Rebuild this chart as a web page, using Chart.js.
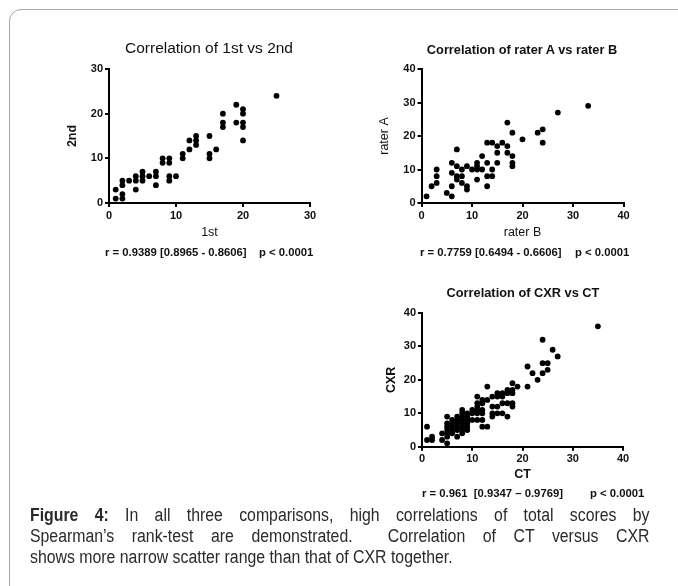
<!DOCTYPE html>
<html lang="en">
<head>
<meta charset="UTF-8">
<title>Figure 4 - Spearman correlations</title>
<script src="https://cdn.jsdelivr.net/npm/chart.js"></script>
<style>
  body {
    margin: 0;
    width: 678px;
    height: 586px;
    overflow: hidden;
    background: #fff;
    position: relative;
    font-family: 'Liberation Sans', Arial, sans-serif;
    color: #000;
  }
  .frame {
    position: absolute;
    left: 9px; top: 9px;
    width: 720px; height: 600px;
    border: 1px solid #a8a8a8;
    border-radius: 12px;
  }
  canvas.plot { position: absolute; left: 0; top: 0; }
  .title {
    position: absolute;
    transform: translateX(-50%);
    white-space: nowrap;
    line-height: 1;
    color: #111;
  }
  .stat {
    position: absolute;
    font-size: 11.3px;
    font-weight: bold;
    line-height: 1;
    white-space: pre;
    color: #111;
  }
  .caption {
    position: absolute;
    left: 30px; top: 505px;
    width: 704px;
    transform: scaleX(0.88);
    transform-origin: 0 0;
    font-size: 18px;
    line-height: 21px;
    color: #2a2a2a;
  }
  .caption .j { text-align: justify; text-align-last: justify; }
</style>
</head>
<body>

<div class="frame"></div>

<canvas class="plot" id="plotFirst" width="678" height="586"></canvas>
<canvas class="plot" id="plotRater" width="678" height="586"></canvas>
<canvas class="plot" id="plotCxr" width="678" height="586"></canvas>

<div class="title" style="left:209px; top:40px; font-size:15.5px;">Correlation of 1st vs 2nd</div>
<div class="title" style="left:522px; top:43.5px; font-size:12.8px; font-weight:bold;">Correlation of rater A vs rater B</div>
<div class="title" style="left:523px; top:286.5px; font-size:12.8px; font-weight:bold;">Correlation of CXR vs CT</div>

<div class="stat" style="left:105px; top:246.5px;">r = 0.9389 [0.8965 - 0.8606]</div>
<div class="stat" style="left:259px; top:246.5px;">p &lt; 0.0001</div>
<div class="stat" style="left:420px; top:246.5px;">r = 0.7759 [0.6494 - 0.6606]</div>
<div class="stat" style="left:575px; top:246.5px;">p &lt; 0.0001</div>
<div class="stat" style="left:422px; top:488px;">r = 0.961  [0.9347 – 0.9769]</div>
<div class="stat" style="left:590px; top:488px;">p &lt; 0.0001</div>

<div class="caption">
  <div class="j"><b>Figure 4:</b> In all three comparisons, high correlations of total scores by</div>
  <div class="j">Spearman’s rank-test are demonstrated.&nbsp; Correlation of CT versus CXR</div>
  <div>shows more narrow scatter range than that of CXR together.</div>
</div>

<script>
// 1st vs 2nd reading
const scoreFirst  = [1, 1, 2, 2, 2, 2, 3, 4, 4, 4, 5, 5, 5, 6, 7, 7, 7, 8, 8, 9, 9, 9, 9, 10, 11, 11, 12, 12, 13, 13, 13, 15, 15, 15, 16, 17, 17, 17, 19, 19, 20, 20, 20, 20, 20, 25];
const scoreSecond = [3, 1, 5, 4, 2, 1, 5, 6, 5, 3, 7, 6, 5, 6, 7, 6, 4, 10, 9, 10, 9, 6, 5, 6, 11, 10, 14, 12, 15, 14, 13, 15, 11, 10, 12, 20, 18, 17, 22, 18, 21, 20, 18, 17, 14, 24];

// rater B (x) vs rater A (y)
const raterB = [1, 2, 3, 3, 3, 5, 6, 6, 6, 6, 7, 7, 7, 7, 8, 8, 8, 9, 9, 9, 10, 11, 11, 11, 11, 12, 12, 13, 13, 13, 13, 14, 14, 14, 15, 15, 15, 16, 17, 17, 17, 18, 18, 18, 18, 20, 23, 24, 24, 27, 33];
const raterA = [2, 5, 6, 8, 10, 3, 2, 5, 9, 12, 16, 11, 8, 7, 10, 8, 6, 11, 5, 4, 10, 12, 11, 10, 7, 10, 14, 12, 8, 5, 18, 18, 10, 8, 17, 15, 12, 18, 17, 15, 24, 21, 14, 12, 11, 19, 21, 22, 18, 27, 29];

// CT (x) vs CXR (y)
const ctScore  = [1, 1, 2, 2, 4, 4, 5, 5, 5, 5, 5, 5, 5,
                  6, 6, 6, 6, 6, 7, 7, 7, 7, 7, 7,
                  8, 8, 8, 8, 8, 8, 8, 8, 9, 9, 9, 9, 9, 9,
                  10, 10, 10, 11, 11, 11, 11, 11, 11, 12, 12, 12, 12, 12, 12,
                  13, 13, 13, 14, 14, 14, 14, 15, 15, 15, 15, 16, 16, 16, 16,
                  17, 17, 17, 17, 18, 18, 18, 18, 18, 19,
                  21, 21, 22, 23, 24, 24, 24, 25, 25, 26, 27, 35];
const cxrScore = [6, 2, 2, 3, 2, 4, 1, 3, 4, 5, 6, 7, 9,
                  4, 5, 6, 7, 8, 3, 5, 6, 7, 8, 9,
                  4, 5, 6, 7, 8, 9, 10, 11, 5, 6, 7, 8, 9, 10,
                  8, 10, 11, 8, 10, 11, 12, 13, 15, 6, 8, 10, 11, 13, 14,
                  6, 14, 18, 9, 10, 12, 15, 10, 12, 15, 16, 10, 13, 15, 16,
                  9, 13, 16, 17, 12, 13, 16, 17, 19, 18,
                  24, 18, 22, 20, 22, 25, 32, 25, 23, 29, 27, 36];

const ticksTo30 = [0, 10, 20, 30];
const ticksTo40 = [0, 10, 20, 30, 40];

const PAGE_W = 678, PAGE_H = 586;
const TITLE_SIZE = 12.5;
const TITLE_LH = TITLE_SIZE * 1.2;

function scatterChart(id, xs, ys, ticks, xTitle, yTitle, area, yTitleX, xTitleY, xBold, yBold) {
  const points = xs.map((x, i) => ({ x: x, y: ys[i] }));
  const yBoxLeft = yTitleX - TITLE_LH / 2;
  const xBoxBottom = xTitleY + TITLE_LH / 2;
  const top = ticks[ticks.length - 1];

  const axis = (title, bold, fit) => ({
    type: 'linear',
    min: 0,
    max: top,
    afterBuildTicks: s => { s.ticks = ticks.map(v => ({ value: v })); },
    afterFit: fit,
    grid: { drawOnChartArea: false, tickLength: 4, color: '#000', lineWidth: 2 },
    border: { color: '#000', width: 2 },
    ticks: { color: '#111', font: { family: 'Liberation Sans', size: 11, weight: 'bold' }, padding: 2, maxRotation: 0 },
    title: { display: true, text: title, color: '#111', padding: 0,
             font: { family: 'Liberation Sans', size: TITLE_SIZE, weight: bold ? 'bold' : 'normal' } }
  });

  return new Chart(document.getElementById(id), {
    type: 'scatter',
    data: {
      datasets: [{
        data: points,
        backgroundColor: '#000',
        borderWidth: 0,
        pointRadius: 2.9,
        pointHoverRadius: 2.9,
        clip: false
      }]
    },
    options: {
      responsive: false,
      animation: false,
      events: [],
      layout: { padding: { left: yBoxLeft, top: area.t, right: PAGE_W - area.r, bottom: PAGE_H - xBoxBottom } },
      plugins: { legend: { display: false }, tooltip: { enabled: false } },
      scales: {
        x: axis(xTitle, xBold, s => { s.height = xBoxBottom - area.b; }),
        y: axis(yTitle, yBold, s => { s.width = area.l - yBoxLeft; })
      }
    }
  });
}

scatterChart('plotFirst', scoreFirst, scoreSecond, ticksTo30, '1st', '2nd',
             { l: 109, t: 69, r: 310, b: 203 }, 73, 232.5, false, true);
scatterChart('plotRater', raterB, raterA, ticksTo40, 'rater B', 'rater A',
             { l: 421.5, t: 69, r: 623.5, b: 203 }, 385, 232.5, false, false);
scatterChart('plotCxr', ctScore, cxrScore, ticksTo40, 'CT', 'CXR',
             { l: 422, t: 313, r: 623, b: 446.7 }, 392, 475, true, true);
</script>

</body>
</html>
